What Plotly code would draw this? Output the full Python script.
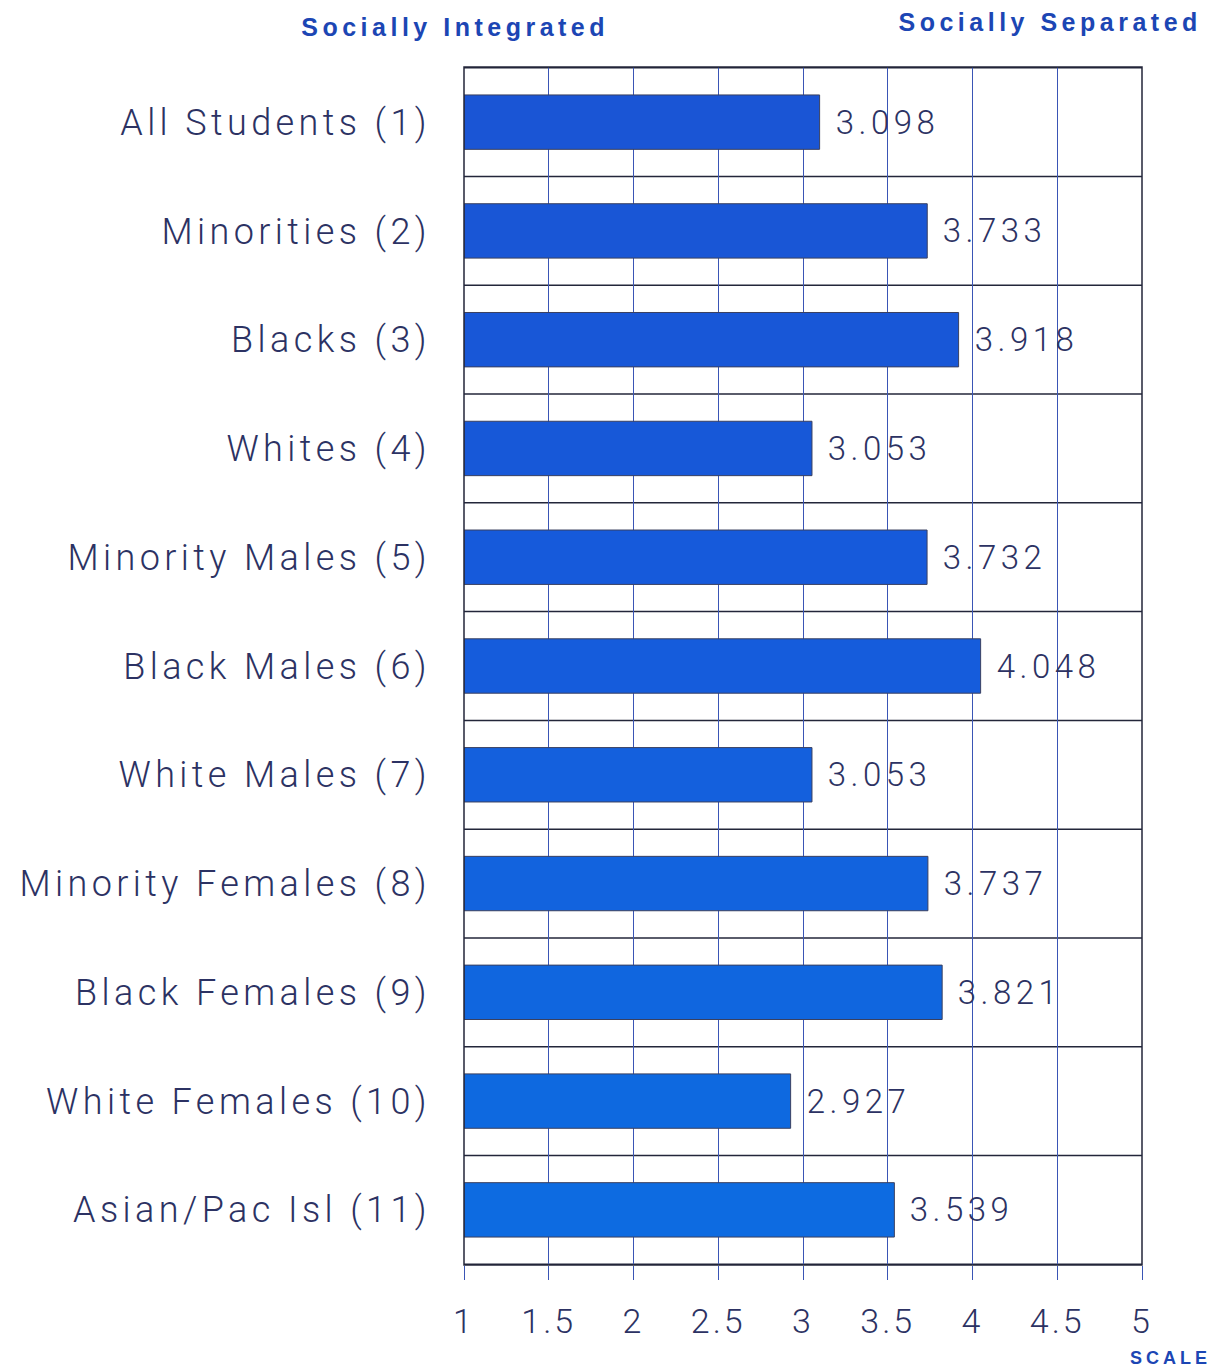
import plotly.graph_objects as go

# Social separation scale, mean score per student group
categories = [
    "All Students (1)", "Minorities (2)", "Blacks (3)", "Whites (4)",
    "Minority Males (5)", "Black Males (6)", "White Males (7)",
    "Minority Females (8)", "Black Females (9)", "White Females (10)",
    "Asian/Pac Isl (11)",
]
scores = [3.098, 3.733, 3.918, 3.053, 3.732, 4.048, 3.053, 3.737, 3.821, 2.927, 3.539]
scale_ticks = [1, 1.5, 2, 2.5, 3, 3.5, 4, 4.5, 5]
scale_labels = ["1", "1.5", "2", "2.5", "3", "3.5", "4", "4.5", "5"]

BAR_COLORS = ["#1a55d5", "#1956d6", "#1857d7", "#1758d8", "#165adb", "#155cdc",
              "#1460dd", "#1263de", "#1066df", "#0e69e0", "#0d6be1"]
TEXT_COLOR = "#2c3263"
GRID_BLUE = "#3a55b5"
TITLE_BLUE = "#1c46b4"
LIGHT_FONT = dict(family="Roboto, 'Liberation Sans', sans-serif", weight=300)

fig = go.Figure()
fig.add_trace(go.Bar(
    x=[s - 1 for s in scores], base=1, y=categories, orientation="h",
    width=0.5,
    marker=dict(color=BAR_COLORS, line=dict(color="#3a4060", width=1)),
    hoverinfo="skip",
))

# value labels just past each bar end
for cat, s in zip(categories, scores):
    fig.add_annotation(
        x=s, y=cat, xref="x", yref="y", text=f"{s:.3f}",
        showarrow=False, xanchor="left", yanchor="middle", xshift=25,
        font=dict(size=33, color=TEXT_COLOR, **LIGHT_FONT),
    )

# horizontal rules between the groups
for k in range(len(categories) + 1):
    fig.add_shape(type="line", xref="paper", yref="y",
                  x0=0, x1=1, y0=k - 0.5, y1=k - 0.5,
                  line=dict(color="#23263a", width=1.5), layer="below")

# frame around the plotting area
fig.add_shape(type="rect", xref="paper", yref="paper", x0=0, x1=1, y0=0, y1=1,
              line=dict(color="#23263a", width=1.5), layer="above")

TITLE_FONT = dict(size=25, color=TITLE_BLUE, family="'Liberation Sans', Arial")
fig.add_annotation(text="<b>Socially Integrated</b>", xref="paper", yref="paper",
                   x=-0.0133, y=1, yshift=40, xanchor="center", yanchor="middle",
                   showarrow=False, font=TITLE_FONT)
fig.add_annotation(text="<b>Socially Separated</b>", xref="paper", yref="paper",
                   x=1, xshift=21, y=1, yshift=45, xanchor="right", yanchor="middle",
                   showarrow=False, font=TITLE_FONT)
fig.add_annotation(text="<b>SCALE</b>", xref="paper", yref="paper",
                   x=1, xshift=61, y=0, yshift=-93, xanchor="right", yanchor="middle",
                   showarrow=False,
                   font=dict(size=18, color=TITLE_BLUE, family="'Liberation Sans', Arial"))

fig.update_layout(
    width=1219, height=1367,
    margin=dict(l=464, r=77, t=67, b=102),
    paper_bgcolor="white", plot_bgcolor="white",
    showlegend=False, bargap=0.5,
    xaxis=dict(
        range=[1, 5], tickvals=scale_ticks, ticktext=scale_labels,
        showgrid=True, gridcolor=GRID_BLUE, gridwidth=1,
        zeroline=False, showline=False,
        ticks="outside", ticklen=14, tickcolor=GRID_BLUE, tickwidth=1,
        ticklabelstandoff=12,
        tickfont=dict(size=34, color=TEXT_COLOR, **LIGHT_FONT),
    ),
    yaxis=dict(
        type="category", categoryorder="array", categoryarray=categories,
        autorange="reversed",
        showgrid=False, zeroline=False, showline=False, ticks="",
        ticklabelstandoff=32,
        tickfont=dict(size=36, color=TEXT_COLOR, **LIGHT_FONT),
    ),
)

# wide letter tracking for all labels
tracking_js = """
var gd = document.getElementById('{plot_id}');
gd.querySelectorAll('.ytick text').forEach(function(t){ t.style.letterSpacing = '4.4px'; });
gd.querySelectorAll('.xtick text').forEach(function(t){ t.style.letterSpacing = '3px'; });
gd.querySelectorAll('.annotation-text').forEach(function(t){
  var s = t.textContent;
  if (/^[0-9]/.test(s)) { t.style.letterSpacing = '4.5px'; }
  else if (s === 'SCALE') { t.style.letterSpacing = '4px'; }
  else { t.style.letterSpacing = '4.5px'; }
});
"""

fig.write_html("out.html", post_script=tracking_js)
